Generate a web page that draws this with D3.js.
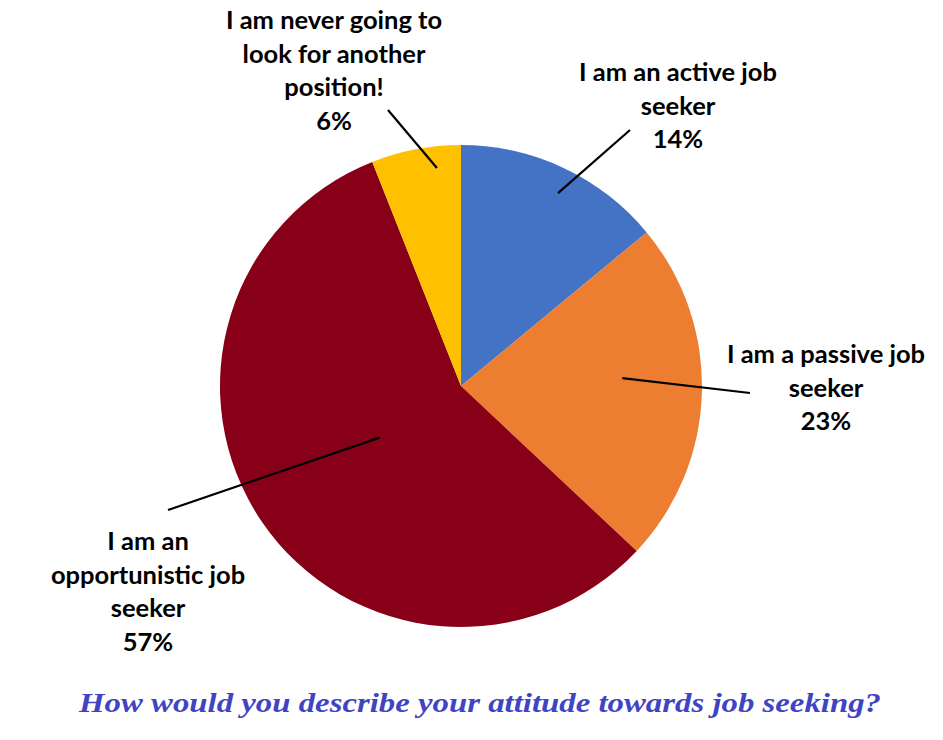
<!DOCTYPE html>
<html><head><meta charset="utf-8">
<script src="https://cdn.jsdelivr.net/npm/d3@7"></script>
<style>body{margin:0;background:#fff}</style>
</head><body>
<svg id="chart" width="943" height="740"></svg>
<script>
const categories = ["I am an active job seeker","I am a passive job seeker","I am an opportunistic job seeker","I am never going to look for another position!"];
const values = [14, 23, 57, 6];
const labelLines = [
  ["I am an active job","seeker","14%"],
  ["I am a passive job","seeker","23%"],
  ["I am an","opportunistic job","seeker","57%"],
  ["I am never going to","look for another","position!","6%"]
];
const colors = ["#4472C4","#ED7D31","#870018","#FFC000"];
const title = "How would you describe your attitude towards job seeking?";

// layout: label centre and leader line (inner point given as angle/radius fraction)
const layout = [
  {lx:678, ly:72,  ox:630, oy:130, ang:26.7,  rf:0.896},
  {lx:826, ly:354, ox:750, oy:393, ang:87.2,  rf:0.67},
  {lx:148, ly:541, ox:168, oy:510, ang:237.6, rf:0.40},
  {lx:334, ly:20,  ox:388, oy:110, ang:353.7, rf:0.91}
];

const svg = d3.select("#chart");
const cx = 461, cy = 386, R = 241;
const pie = d3.pie().sort(null).value(d=>d)(values);
const arc = d3.arc().innerRadius(0).outerRadius(R);
const g = svg.append("g").attr("transform",`translate(${cx},${cy})`);
g.selectAll("path").data(pie).join("path")
  .attr("d",arc).attr("fill",(d,i)=>colors[i]);

// leader lines
layout.forEach((L,i)=>{
  const a = L.ang*Math.PI/180;
  const r = R*L.rf;
  const ix = cx + r*Math.sin(a), iy = cy - r*Math.cos(a);
  svg.append("line").attr("x1",L.ox).attr("y1",L.oy).attr("x2",ix).attr("y2",iy)
    .attr("stroke","#000").attr("stroke-width",2.2);
});

// labels
layout.forEach((L,i)=>{
  const t = svg.append("text").attr("text-anchor","middle")
    .attr("font-family","Lato, 'Open Sans', sans-serif").attr("font-weight","bold")
    .attr("font-size",25.5).attr("fill","#000");
  labelLines[i].forEach((s,j)=>{
    t.append("tspan").attr("x",L.lx).attr("y",L.ly + j*33.7).attr("dy","0.35em").text(s);
  });
});

svg.append("text").attr("x",480).attr("y",712).attr("text-anchor","middle")
  .attr("font-family","'Liberation Serif', 'DejaVu Serif', serif")
  .attr("font-style","italic").attr("font-weight","bold").attr("font-size",27)
  .attr("fill","#3F44C4")
  .attr("textLength",802).attr("lengthAdjust","spacingAndGlyphs")
  .text(title);
</script>
</body></html>
